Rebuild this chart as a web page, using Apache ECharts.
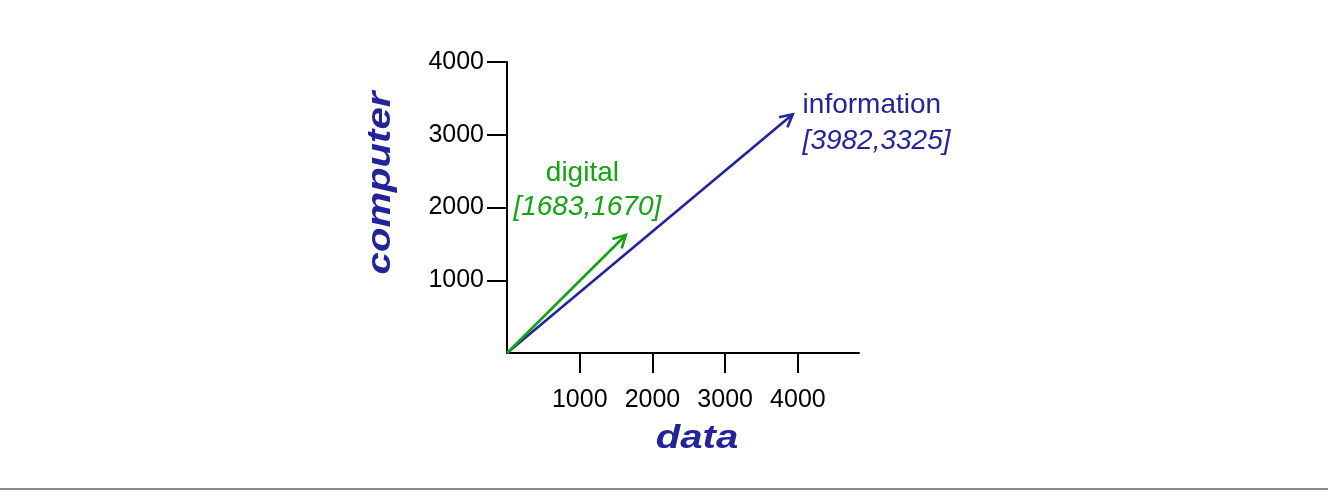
<!DOCTYPE html>
<html>
<head>
<meta charset="utf-8">
<script src="https://cdn.jsdelivr.net/npm/echarts@6/dist/echarts.min.js"></script>
<style>
  html, body { margin: 0; padding: 0; background: #fff; }
  #chart { width: 1328px; height: 490px; }
</style>
</head>
<body>
<div id="chart"></div>
<script>
// ---- data ----
const words = ['information', 'digital'];
const dataValues = [3982, 1683];      // x: "data"
const computerValues = [3325, 1670];  // y: "computer"
const tickValues = [1000, 2000, 3000, 4000];
const xAxisTitle = 'data';
const yAxisTitle = 'computer';

// ---- styles ----
const FONT = '"Liberation Sans", Arial, Helvetica, sans-serif';
const colors = { information: '#24249a', digital: '#13a313' };
const labelStyle = {
  information: { nameDx: 6, nameDy: -6, valDx: 6, valDy: 30, align: 'left' },
  digital: { nameDx: -47, nameDy: -58, valDx: -42, valDy: -24, align: 'center' }
};

const seriesData = words.map((w, i) => [dataValues[i], computerValues[i], i]);

const chart = echarts.init(document.getElementById('chart'), null, { renderer: 'canvas' });

function renderArrow(params, api) {
  const i = api.value(2);
  const w = words[i];
  const col = colors[w];
  const ls = labelStyle[w];
  const o = api.coord([0, 0]);
  const p = api.coord([api.value(0), api.value(1)]);
  const dx = p[0] - o[0], dy = p[1] - o[1];
  const len = Math.sqrt(dx * dx + dy * dy);
  const ux = dx / len, uy = dy / len;
  const shrink = 5;
  const tx = p[0] - ux * shrink, ty = p[1] - uy * shrink;
  const ah = 14, ang = 28 * Math.PI / 180;
  const cos = Math.cos(ang), sin = Math.sin(ang);
  const bx = -ux, by = -uy;
  const a1 = [tx + ah * (bx * cos - by * sin), ty + ah * (bx * sin + by * cos)];
  const a2 = [tx + ah * (bx * cos + by * sin), ty + ah * (-bx * sin + by * cos)];
  const val = '[' + api.value(0) + ',' + api.value(1) + ']';
  return {
    type: 'group',
    children: [
      { type: 'line', shape: { x1: o[0], y1: o[1], x2: tx, y2: ty },
        style: { stroke: col, lineWidth: 2.6 } },
      { type: 'polyline', shape: { points: [a1, [tx, ty], a2] },
        style: { stroke: col, lineWidth: 2.6, fill: null } },
      { type: 'text', style: { text: w, x: p[0] + ls.nameDx, y: p[1] + ls.nameDy,
          fill: col, fontSize: 28, fontFamily: FONT, align: ls.align, verticalAlign: 'middle' } },
      { type: 'text', style: { text: val, x: p[0] + ls.valDx, y: p[1] + ls.valDy,
          fill: col, fontSize: 28, fontStyle: 'italic', fontFamily: FONT, align: ls.align, verticalAlign: 'middle' } }
    ]
  };
}

const plainNum = v => String(v);

const option = {
  animation: false,
  backgroundColor: '#fff',
  grid: { left: 507, top: 62, width: 352, height: 291, containLabel: false },
  xAxis: {
    type: 'value', min: 0, max: 4840,
    axisLine: { show: true, lineStyle: { color: '#000', width: 2 } },
    axisTick: { show: true, length: 20, customValues: tickValues, lineStyle: { color: '#000', width: 2 } },
    axisLabel: { customValues: tickValues, formatter: plainNum, margin: 35, color: '#000', fontSize: 25, fontFamily: FONT },
    splitLine: { show: false }
  },
  yAxis: {
    type: 'value', min: 0, max: 4000,
    axisLine: { show: true, lineStyle: { color: '#000', width: 2 } },
    axisTick: { show: true, length: 20, customValues: tickValues, lineStyle: { color: '#000', width: 2 } },
    axisLabel: { customValues: tickValues, formatter: plainNum, margin: 23, padding: [4, 0, 0, 0], color: '#000', fontSize: 25, fontFamily: FONT },
    splitLine: { show: false }
  },
  series: [{
    type: 'custom',
    coordinateSystem: 'cartesian2d',
    clip: false,
    renderItem: renderArrow,
    data: seriesData
  }],
  graphic: [
    { type: 'text', x: 697, y: 439, scaleX: 1.18,
      style: { text: xAxisTitle, fill: '#24249a', fontSize: 34, fontWeight: 'bold', fontStyle: 'italic',
               fontFamily: FONT, align: 'center', verticalAlign: 'middle' } },
    { type: 'text', x: 381, y: 183, rotation: Math.PI / 2, scaleX: 1.18,
      style: { text: yAxisTitle, fill: '#24249a', fontSize: 34, fontWeight: 'bold', fontStyle: 'italic',
               fontFamily: FONT, align: 'center', verticalAlign: 'middle' } },
    { type: 'rect', shape: { x: 0, y: 488, width: 1328, height: 2 }, style: { fill: '#8a8a8a' } }
  ]
};
chart.setOption(option);
</script>
</body>
</html>
